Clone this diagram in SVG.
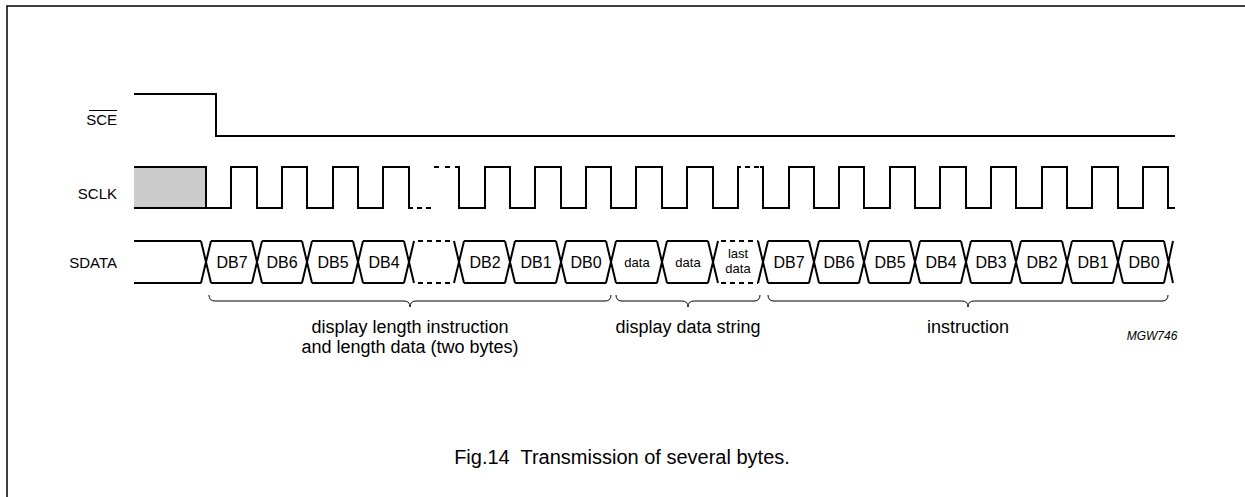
<svg xmlns="http://www.w3.org/2000/svg" width="1245" height="497" viewBox="0 0 1245 497">
<style>
.w{fill:none;stroke:#000;stroke-width:2;stroke-linejoin:miter;stroke-linecap:butt}
.d{fill:none;stroke:#000;stroke-width:2;stroke-dasharray:5 4}
.b{fill:none;stroke:#000;stroke-width:1}
text{font-family:"Liberation Sans",Arial,sans-serif;fill:#000}
.lab{font-size:15px;text-anchor:end}
.db{font-size:16px;text-anchor:middle}
.sm{font-size:13px;text-anchor:middle}
.cap{font-size:18px;text-anchor:middle}
</style>
<rect x="7" y="6" width="1260" height="510" fill="none" stroke="#000" stroke-width="1.5"/>
<g id="labels">
<text class="lab" x="117" y="125">SCE</text>
<path d="M89,110.5 H117" stroke="#000" stroke-width="1"/>
<text class="lab" x="117" y="199">SCLK</text>
<text class="lab" x="117" y="268">SDATA</text>
</g>
<g id="sce">
<path class="w" d="M134,94 H216 V136 H1175"/>
</g>
<g id="sclk">
<rect x="134" y="167" width="72" height="41" fill="#ccc"/>
<path class="w" d="M134,208 H206"/>
<path class="w" d="M134,167 H206 V208 H231 V167 H257 V208 H282 V167 H307 V208 H333 V167 H358 V208 H383 V167 H409 V208 H413"/>
<path class="d" d="M417,208 H434"/>
<path class="d" d="M434,167 H452" style="stroke-dasharray:5 6"/>
<path class="w" d="M455,167 H459 V208 H485 V167 H510 V208 H535 V167 H561 V208 H586 V167 H611 V208 H636 V167 H662 V208 H687 V167 H713 V208 H738 V167 H741"/>
<path class="d" d="M745,167 H759"/>
<path class="w" d="M760,167 H763 V208 H789 V167 H814 V208 H839 V167 H864 V208 H890 V167 H915 V208 H940 V167 H966 V208 H991 V167 H1016 V208 H1042 V167 H1067 V208 H1092 V167 H1118 V208 H1143 V167 H1168 V208 H1175"/>
</g>
<g id="sdata">
<path class="w" d="M134,241 H201 M134,283 H201 M201,241 L211,283 M201,283 L211,241
M211,241 H252 M211,283 H252 M252,241 L262,283 M252,283 L262,241
M262,241 H302 M262,283 H302 M302,241 L312,283 M302,283 L312,241
M312,241 H353 M312,283 H353 M353,241 L363,283 M353,283 L363,241
M363,241 H404 M363,283 H404 M404,241 L414,283 M404,283 L414,241
M454,241 L464,283 M454,283 L464,241
M464,241 H505 M464,283 H505 M505,241 L515,283 M505,283 L515,241
M515,241 H556 M515,283 H556 M556,241 L566,283 M556,283 L566,241
M566,241 H606 M566,283 H606 M606,241 L616,283 M606,283 L616,241
M616,241 H657 M616,283 H657 M657,241 L667,283 M657,283 L667,241
M667,241 H708 M667,283 H708 M708,241 L718,283 M708,283 L718,241
M758,241 L768,283 M758,283 L768,241
M768,241 H809 M768,283 H809 M809,241 L819,283 M809,283 L819,241
M819,241 H859 M819,283 H859 M859,241 L869,283 M859,283 L869,241
M869,241 H910 M869,283 H910 M910,241 L920,283 M910,283 L920,241
M920,241 H961 M920,283 H961 M961,241 L971,283 M961,283 L971,241
M971,241 H1011 M971,283 H1011 M1011,241 L1021,283 M1011,283 L1021,241
M1021,241 H1062 M1021,283 H1062 M1062,241 L1072,283 M1062,283 L1072,241
M1072,241 H1113 M1072,283 H1113 M1113,241 L1123,283 M1113,283 L1123,241
M1123,241 H1164 M1123,283 H1164 M1164,241 L1173,283 M1164,283 L1173,241"/>
<path class="d" d="M418,241 H454 M418,283 H454"/>
<path class="d" d="M721,241 H758 M721,283 H758"/>
<text class="db" x="232" y="268">DB7</text>
<text class="db" x="282" y="268">DB6</text>
<text class="db" x="333" y="268">DB5</text>
<text class="db" x="384" y="268">DB4</text>
<text class="db" x="485" y="268">DB2</text>
<text class="db" x="536" y="268">DB1</text>
<text class="db" x="586" y="268">DB0</text>
<text class="sm" x="637" y="267">data</text>
<text class="sm" x="688" y="267">data</text>
<text class="sm" x="738" y="258">last</text>
<text class="sm" x="738" y="273">data</text>
<text class="db" x="789" y="268">DB7</text>
<text class="db" x="839" y="268">DB6</text>
<text class="db" x="890" y="268">DB5</text>
<text class="db" x="941" y="268">DB4</text>
<text class="db" x="991" y="268">DB3</text>
<text class="db" x="1042" y="268">DB2</text>
<text class="db" x="1093" y="268">DB1</text>
<text class="db" x="1144" y="268">DB0</text>
</g>
<g id="braces">
<path class="b" d="M209,295 Q209,301 215,301 H404 Q410,301 410,307 Q410,301 416,301 H605 Q611,301 611,295"/>
<path class="b" d="M616,295 Q616,301 622,301 H682 Q688,301 688,307 Q688,301 694,301 H754 Q760,301 760,295"/>
<path class="b" d="M768,295 Q768,301 774,301 H962 Q968,301 968,307 Q968,301 974,301 H1162 Q1168,301 1168,295"/>
</g>
<g id="annotations">
<text class="cap" x="410" y="333">display length instruction</text>
<text class="cap" x="410" y="353">and length data (two bytes)</text>
<text class="cap" x="688" y="333">display data string</text>
<text class="cap" x="968" y="333">instruction</text>
<text x="1152" y="340" style="font-size:12px;font-style:italic;text-anchor:middle">MGW746</text>
<text class="cap" x="622" y="464" xml:space="preserve" style="font-size:20px">Fig.14  Transmission of several bytes.</text>
</g>
</svg>
